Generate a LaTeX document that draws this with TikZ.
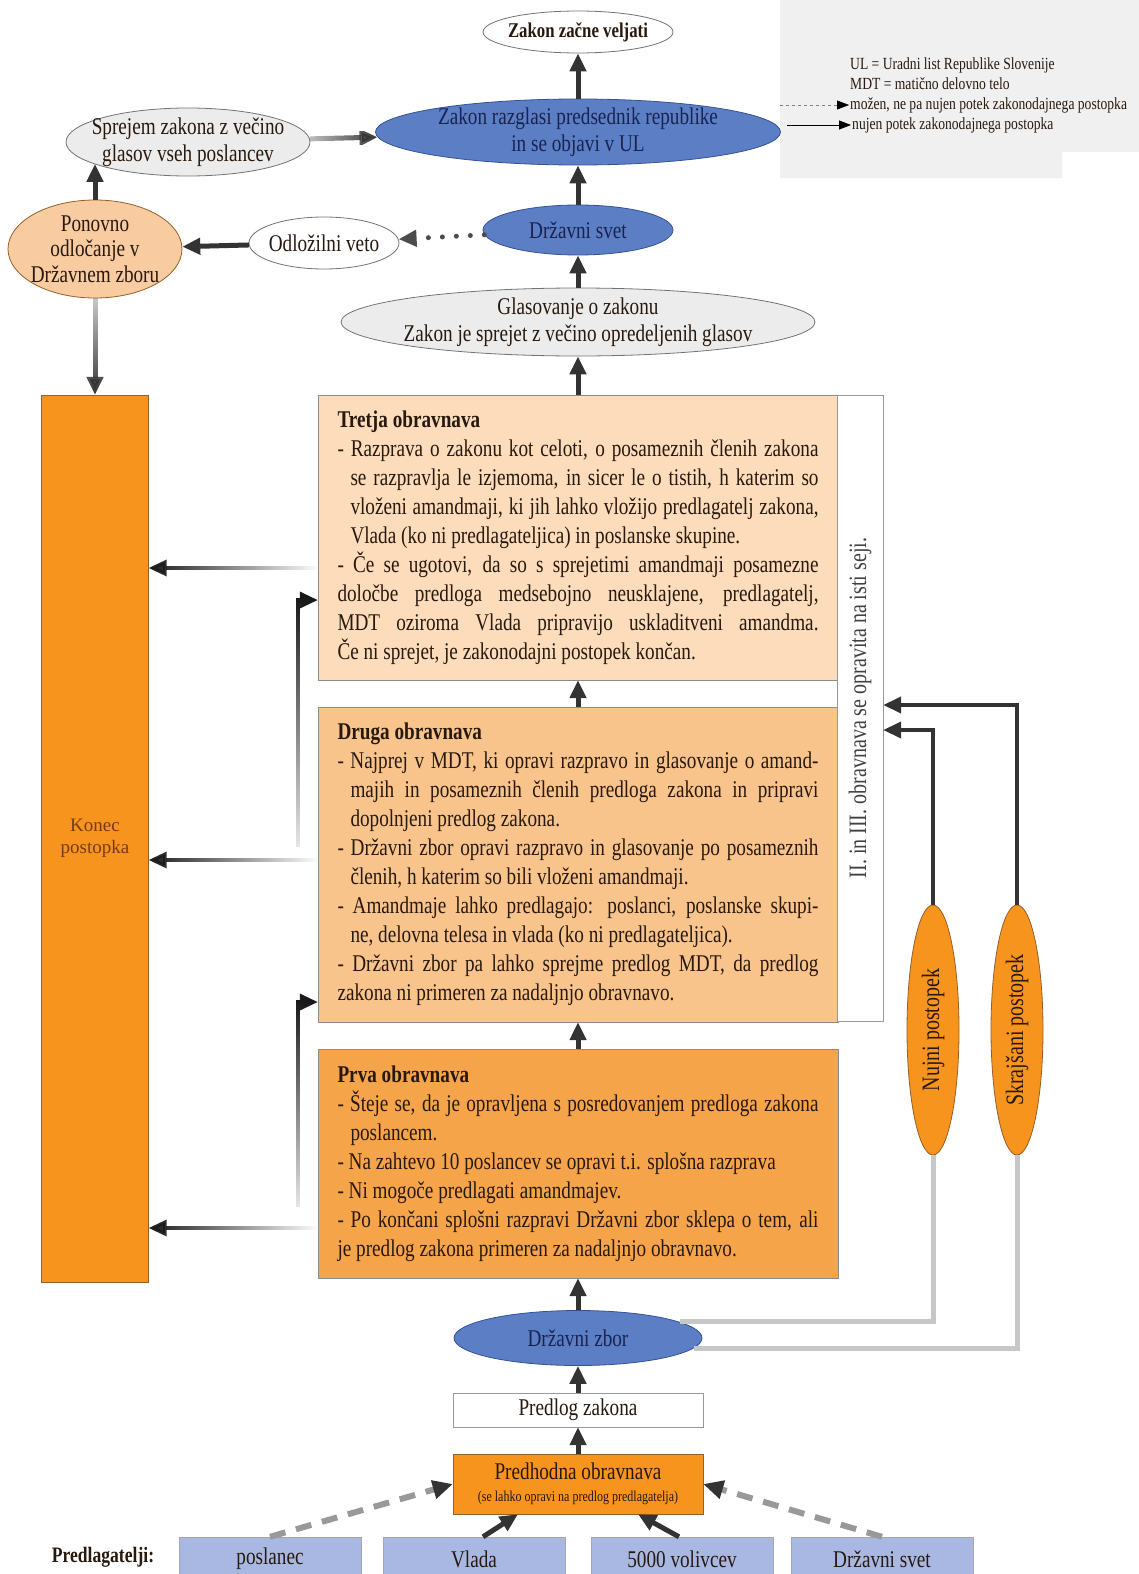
\documentclass[tikz,border=0pt]{standalone}
\usepackage{fontspec}
\setmainfont{Liberation Serif}[FakeStretch=0.8]
\newfontfamily\plainserif{Liberation Serif}
\usepackage{xcolor}
\usetikzlibrary{shapes.geometric,arrows.meta,fadings,positioning}

\definecolor{bluefill}{RGB}{92,126,197}
\definecolor{blueedge}{RGB}{52,82,150}
\definecolor{navytext}{RGB}{25,35,80}
\definecolor{greyfill}{RGB}{236,236,236}
\definecolor{peachfill}{RGB}{249,203,160}
\definecolor{orangefill}{RGB}{247,148,29}
\definecolor{brownedge}{RGB}{150,95,40}
\definecolor{tretjafill}{RGB}{252,220,186}
\definecolor{drugafill}{RGB}{249,196,140}
\definecolor{prvafill}{RGB}{246,164,74}
\definecolor{proposerfill}{RGB}{168,184,226}
\definecolor{legendfill}{RGB}{240,240,240}
\definecolor{inktext}{RGB}{40,25,15}
\definecolor{konectext}{RGB}{120,60,20}

\tikzfading[name=tailfade west, left color=transparent!70, right color=transparent!0]
\tikzfading[name=tailfade east, left color=transparent!0, right color=transparent!100]
\tikzfading[name=tailfade south, top color=transparent!0, bottom color=transparent!90]
\tikzfading[name=tailfade north, top color=transparent!75, bottom color=transparent!0]

\newcommand{\stagefont}{\fontsize{24}{29}\selectfont\hyphenpenalty=10000\relax}
\newcommand{\ellfont}{\fontsize{24}{27}\selectfont}
\newcommand{\smallfont}{\fontsize{15}{17}\selectfont}
\newcommand{\legendfont}{\fontsize{17}{19}\selectfont}
\newcommand{\sidefont}{\fontsize{25}{27}\selectfont}
\newcommand{\stagebullet}{\par\hangindent=13pt\hangafter=1 -\ }

\begin{document}
\begin{tikzpicture}
[x=1pt, y=-1pt,
 >={Triangle[length=18pt,width=16pt]},
 ell/.style={ellipse, draw=black!55, thick, inner sep=0pt, font=\ellfont, text=inktext},
 blueell/.style={ell, draw=blueedge, fill=bluefill, text=navytext},
 greyell/.style={ell, fill=greyfill},
 orangeell/.style={ell, draw=brownedge, fill=orangefill},
 elltext/.style={font=\ellfont, text=inktext, align=center},
 stage/.style={rectangle, draw=black!45, text width=481pt, inner xsep=19.5pt, inner ysep=0pt, align=justify, font=\stagefont, text=inktext},
 plainbox/.style={rectangle, draw=black!40, minimum width=250pt, inner ysep=0pt, font=\ellfont, text=inktext},
 proposer/.style={rectangle, draw=black!35, fill=proposerfill, minimum width=182pt, minimum height=44pt, inner ysep=0pt, font=\ellfont, text=inktext},
 flow/.style={->, line width=5pt, draw=black!80},
 fadeflow/.style={->, line width=3.5pt, draw=black!90},
 route/.style={->, line width=4pt, draw=black!80},
 greyroute/.style={line width=5pt, draw=black!22},
 maybe/.style={line width=6pt, draw=black!40, dash pattern=on 16pt off 11pt, -{Triangle[length=20pt,width=18pt,color=black!80]}}]

\useasboundingbox (0,0) rectangle (1139,1574);

%Legend
\fill[legendfill] (780,0) -- (1139,0) -- (1139,152) -- (1062,152) -- (1062,178) -- (780,178) -- cycle;
\node[anchor=west, inner sep=1pt, font=\legendfont, text=inktext] (legul) at (849,65) {UL = Uradni list Republike Slovenije};
\node[anchor=west, inner sep=1pt, font=\legendfont, text=inktext] (legmdt) at (849,84) {MDT = matično delovno telo};
\node[anchor=west, inner sep=1pt, font=\legendfont, text=inktext] (legmay) at (849,105) {možen, ne pa nujen potek zakonodajnega postopka};
\node[anchor=west, inner sep=1pt, font=\legendfont, text=inktext] (legmust) at (851,125) {nujen potek zakonodajnega postopka};
\draw[dashed, draw=black!50, -{Triangle[length=12pt,width=9pt,color=black]}] ([xshift=-69pt]legmay.west) -- (legmay.west);
\draw[line width=0.8pt, -{Triangle[length=12pt,width=9pt]}] ([xshift=-64pt]legmust.west) -- (legmust.west);

%Nodes
\node[plainbox, fill=white, minimum height=34pt] (predlog) at (578,1410) {Predlog zakona};
\node[plainbox, fill=orangefill, draw=brownedge, minimum height=60pt, align=center, below of=predlog, node distance=74pt] (predhodna) {Predhodna obravnava\\[-5pt]{\smallfont (se lahko opravi na predlog predlagatelja)}};
\node[blueell, minimum width=248pt, minimum height=55pt, above of=predlog, node distance=72pt] (zbor) {Državni zbor};

\node[stage, fill=prvafill, minimum height=229pt, above of=zbor, node distance=174.5pt] (prva) {\textbf{Prva obravnava}
\stagebullet Šteje se, da je opravljena s posredovanjem predloga zakona\linebreak poslancem.
\stagebullet Na zahtevo 10 poslancev se opravi t.i. splošna razprava
\stagebullet Ni mogoče predlagati amandmajev.
\stagebullet Po končani splošni razpravi Državni zbor sklepa o tem, ali\linebreak je predlog zakona primeren za nadaljnjo obravnavo.};

\node[stage, fill=drugafill, minimum height=315pt, above of=prva, node distance=299pt] (druga) {\textbf{Druga obravnava}
\stagebullet Najprej v MDT, ki opravi razpravo in glasovanje o amand-\linebreak majih in posameznih členih predloga zakona in pripravi\linebreak dopolnjeni predlog zakona.
\stagebullet Državni zbor opravi razpravo in glasovanje po posameznih\linebreak členih, h katerim so bili vloženi amandmaji.
\stagebullet Amandmaje lahko predlagajo: poslanci, poslanske skupi-\linebreak ne, delovna telesa in vlada (ko ni predlagateljica).
\stagebullet Državni zbor pa lahko sprejme predlog MDT, da predlog\linebreak zakona ni primeren za nadaljnjo obravnavo.};

\node[stage, fill=tretjafill, minimum height=285pt, above of=druga, node distance=327pt] (tretja) {\textbf{Tretja obravnava}
\stagebullet Razprava o zakonu kot celoti, o posameznih členih zakona\linebreak se razpravlja le izjemoma, in sicer le o tistih, h katerim so\linebreak vloženi amandmaji, ki jih lahko vložijo predlagatelj zakona,\linebreak Vlada (ko ni predlagateljica) in poslanske skupine.
\stagebullet Če se ugotovi, da so s sprejetimi amandmaji posamezne\linebreak določbe predloga medsebojno neusklajene, predlagatelj,\linebreak MDT oziroma Vlada pripravijo uskladitveni amandma.\linebreak Če ni sprejet, je zakonodajni postopek končan.};

\node[greyell, minimum width=474pt, minimum height=68pt, above of=tretja, node distance=215.5pt, label={[elltext]center:{Glasovanje o zakonu\\Zakon je sprejet z večino opredeljenih glasov}}] (glas) {};
\node[blueell, minimum width=190pt, minimum height=50pt, above of=glas, node distance=92pt] (svet) {Državni svet};
\node[blueell, minimum width=405pt, minimum height=66pt, above of=svet, node distance=98pt, label={[elltext, text=navytext]center:{Zakon razglasi predsednik republike\\in se objavi v UL}}] (razglasi) {};
\node[ell, fill=white, minimum width=190pt, minimum height=42pt, above of=razglasi, node distance=100pt, label={[elltext, font=\bfseries\fontsize{21}{24}\selectfont]center:Zakon začne veljati}] (veljati) {};

\node[greyell, minimum width=244pt, minimum height=68pt, left of=razglasi, node distance=390pt, yshift=-10pt, label={[elltext]center:{Sprejem zakona z večino\\glasov vseh poslancev}}] (sprejem) {};
\node[ell, fill=white, minimum width=150pt, minimum height=52pt, left of=svet, node distance=254pt, yshift=-13pt, label={[elltext]center:Odložilni veto}] (odlozilni) {};
\node[ell, draw=brownedge, fill=peachfill, minimum width=174pt, minimum height=98pt, left of=odlozilni, node distance=229pt, yshift=-6pt, label={[elltext, font=\fontsize{24}{25.5}\selectfont]center:{Ponovno\\odločanje v\\Državnem zboru}}] (ponovno) {};
\node[rectangle, draw=brownedge, fill=orangefill, minimum width=107pt, minimum height=887pt, align=center, font=\plainserif\fontsize{19}{22}\selectfont, text=konectext, below of=ponovno, node distance=589.5pt] (konec) {Konec\\postopka};

\node[rectangle, draw=black!40, fill=white, minimum width=46pt, minimum height=626pt, label={[rotate=90, font=\sidefont, text=black!75]center:II. in III. obravnava se opravita na isti seji.}] (skupaj) at (860,708) {};
\node[orangeell, minimum width=52pt, minimum height=250pt, label={[rotate=90, font=\sidefont, text=inktext]center:Nujni postopek}] (nujni) at (933,1030) {};
\node[orangeell, minimum width=52pt, minimum height=250pt, right of=nujni, node distance=84pt, label={[rotate=90, font=\sidefont, text=inktext]center:Skrajšani postopek}] (skrajsani) {};

\node[proposer] (vlada) at (474,1559) {Vlada};
\node[proposer, left of=vlada, node distance=204pt] (poslanec) {poslanec};
\node[proposer, right of=vlada, node distance=208pt] (volivci) {5000 volivcev};
\node[proposer, right of=volivci, node distance=200pt] (dsvet) {Državni svet};
\node[font=\bfseries\fontsize{22}{24}\selectfont, text=inktext] (predlagatelji) at (103,1557) {Predlagatelji:};

%Lines
\draw[flow] (predhodna.north) -- (predlog.south);
\draw[flow] (predlog.north) -- (zbor.south);
\draw[flow] (zbor.north) -- (prva.south);
\draw[flow] (prva.north) -- (druga.south);
\draw[flow] (druga.north) -- (tretja.south);
\draw[flow] (tretja.north) -- (glas.south);
\draw[flow] (glas.north) -- (svet.south);
\draw[flow] (svet.north) -- (razglasi.south);
\draw[flow] (razglasi.north) -- (veljati.south);
\draw[flow, path fading=tailfade west] (sprejem) -- (razglasi);
\draw[flow] (ponovno.north) -- (ponovno.north |- sprejem.193);
% the extra move-tos give the faded paths some width or height
\draw[flow, path fading=tailfade north] ([xshift=-6pt]ponovno.south) ([xshift=6pt]ponovno.south) (ponovno.south) -- (ponovno.south |- konec.north);
\draw[flow] (odlozilni) -- (ponovno);
\draw[->, line width=5pt, draw=black!70, line cap=round, dash pattern=on 0pt off 14pt] (svet) -- (odlozilni);

\draw[fadeflow, path fading=tailfade east] ([yshift=-25pt]tretja.west) ([yshift=-36pt]tretja.west) ([yshift=-30.5pt]tretja.west) -- ([yshift=-30.5pt]tretja.west -| konec.east);
\draw[fadeflow, path fading=tailfade east] ([yshift=10pt]druga.west) ([yshift=-1pt]druga.west) ([yshift=4.5pt]druga.west) -- ([yshift=4.5pt]druga.west -| konec.east);
\draw[fadeflow, path fading=tailfade east] ([yshift=-59pt]prva.west) ([yshift=-70pt]prva.west) ([yshift=-64.5pt]prva.west) -- ([yshift=-64.5pt]prva.west -| konec.east);
\draw[fadeflow, path fading=tailfade south] ([xshift=-20pt,yshift=18pt]druga.west) |- ([yshift=-62.5pt]tretja.west);
\draw[fadeflow, path fading=tailfade south] ([xshift=-20pt,yshift=-43.5pt]prva.west) |- ([yshift=-137.5pt]druga.west);

\draw[greyroute] (zbor.9) -| (nujni.south);
\draw[greyroute] (zbor.-5) -| (skrajsani.south);
\draw[route] (nujni.north) |- ([yshift=-22pt]skupaj.east);
\draw[route] (skrajsani.north) |- ([yshift=3pt]skupaj.east);

\draw[maybe] (poslanec.north) -- (predhodna.west);
\draw[maybe] (dsvet.north) -- (predhodna.east);
\draw[flow] ([xshift=9pt]vlada.north) -- ([xshift=-60pt]predhodna.south);
\draw[flow] ([xshift=-3pt]volivci.north) -- ([xshift=60pt]predhodna.south);

\end{tikzpicture}
\end{document}
